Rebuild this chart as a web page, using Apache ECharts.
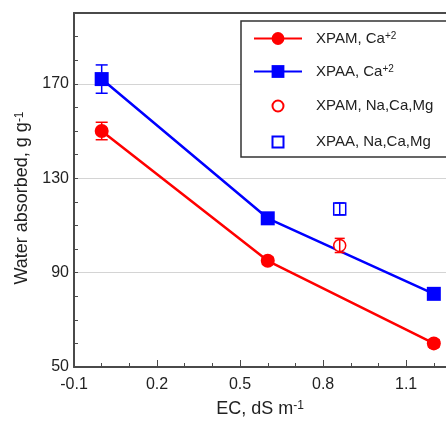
<!DOCTYPE html>
<html>
<head>
<meta charset="utf-8">
<script src="https://cdn.jsdelivr.net/npm/echarts@6/dist/echarts.min.js"></script>
<style>
html, body { margin: 0; padding: 0; background: #fff; }
#chart { width: 446px; height: 423px; }
</style>
</head>
<body>
<div id="chart"></div>
<script>
// 数据
const ecValues = [0, 0.6, 1.2];
const xpamCa = [150, 95, 60];
const xpamCaErr = [3.7, 1.5, 1.5];
const xpaaCa = [172, 113, 81];
const xpaaCaErr = [6, 1.5, 1.5];

const mixEc = [0.86];
const xpamMix = [101.5];
const xpamMixErr = [3];
const xpaaMix = [117];
const xpaaMixErr = [2.5];

const xLabelValues = [-0.1, 0.2, 0.5, 0.8, 1.1];
const yLabelValues = [50, 90, 130, 170];

const RED = '#ff0000';
const BLUE = '#0000ff';
const AXIS = '#4a4a4a';
const FONT = 'Liberation Sans, Arial, sans-serif';

// 图例里的空心符号 (带留白, 比实心的小一点)
const LEGEND_OPEN_CIRCLE = 'path://M0,0M16,16M8,2.5A5.5,5.5,0,1,1,7.99,2.5Z';
const LEGEND_OPEN_SQUARE = 'path://M0,0M16,16M2.5,2.5H13.5V13.5H2.5Z';

function pairs(xs, ys) {
    return xs.map((x, i) => [x, ys[i]]);
}

// 误差棒: [x, y, err]
function errData(xs, ys, errs) {
    return xs.map((x, i) => [x, ys[i], errs[i]]);
}

function errorBar(id, color, data, cap) {
    return {
        name: id,
        type: 'custom',
        z: 4,
        silent: true,
        data: data,
        renderItem: (params, api) => {
            const x = api.value(0);
            const lo = api.coord([x, api.value(1) - api.value(2)]);
            const hi = api.coord([x, api.value(1) + api.value(2)]);
            const style = { stroke: color, lineWidth: 1.5 };
            return {
                type: 'group',
                children: [
                    { type: 'line', shape: { x1: lo[0], y1: lo[1], x2: hi[0], y2: hi[1] }, style },
                    { type: 'line', shape: { x1: lo[0] - cap, y1: lo[1], x2: lo[0] + cap, y2: lo[1] }, style },
                    { type: 'line', shape: { x1: hi[0] - cap, y1: hi[1], x2: hi[0] + cap, y2: hi[1] }, style }
                ]
            };
        }
    };
}

function supLabel(name) {
    const m = name.match(/^(.*?)(\+2)$/);
    if (m) return '{t|' + m[1] + '}{sup|' + m[2] + '}';
    return '{t|' + name + '}';
}

const chart = echarts.init(document.getElementById('chart'));

const baseX = { type: 'value', min: -0.1, max: 1.244, interval: 0.1 };
const baseY = { type: 'value', min: 50, max: 200, interval: 10 };

const option = {
    animation: false,
    textStyle: { fontFamily: FONT },
    grid: { left: 74, top: 13, right: 0, bottom: 54, containLabel: false },
    legend: {
        orient: 'vertical',
        left: 241,
        top: 21,
        align: 'left',
        itemWidth: 48,
        itemHeight: 16,
        itemGap: 18,
        symbolKeepAspect: true,
        padding: [10, 60, 6, 12],
        backgroundColor: '#fff',
        borderColor: '#333',
        borderWidth: 1.5,
        borderRadius: 0,
        data: [
            'XPAM, Ca+2',
            'XPAA, Ca+2',
            { name: 'XPAM, Na,Ca,Mg', icon: LEGEND_OPEN_CIRCLE },
            { name: 'XPAA, Na,Ca,Mg', icon: LEGEND_OPEN_SQUARE }
        ],
        formatter: supLabel,
        textStyle: {
            color: '#222',
            fontSize: 15,
            fontFamily: FONT,
            rich: {
                t: { fontSize: 15, color: '#222', padding: [0, 0, 0, 9], fontFamily: FONT },
                sup: { fontSize: 10, color: '#222', verticalAlign: 'top', fontFamily: FONT }
            }
        }
    },
    xAxis: [
        Object.assign({}, baseX, {
            position: 'bottom',
            name: '{t|EC, dS m}{sup|-1}',
            nameLocation: 'middle',
            nameGap: 33,
            nameTextStyle: {
                rich: {
                    t: { fontSize: 18, color: '#222', fontFamily: FONT },
                    sup: { fontSize: 12, color: '#222', verticalAlign: 'top', fontFamily: FONT }
                }
            },
            axisLine: { show: true, onZero: false, lineStyle: { color: AXIS, width: 2 } },
            axisTick: { show: true, inside: true, length: 7, customValues: xLabelValues, lineStyle: { color: AXIS, width: 1 } },
            axisLabel: {
                customValues: xLabelValues,
                margin: 10,
                fontSize: 16,
                color: '#222',
                fontFamily: FONT,
                formatter: v => v.toFixed(1)
            },
            splitLine: { show: false }
        }),
        Object.assign({}, baseX, {
            position: 'bottom',
            axisLine: { show: false, onZero: false },
            axisTick: { show: true, inside: true, length: 4, lineStyle: { color: AXIS, width: 1 } },
            axisLabel: { show: false },
            splitLine: { show: false }
        }),
        Object.assign({}, baseX, {
            position: 'top',
            axisLine: { show: true, onZero: false, lineStyle: { color: AXIS, width: 2 } },
            axisTick: { show: false },
            axisLabel: { show: false },
            splitLine: { show: false }
        })
    ],
    yAxis: [
        Object.assign({}, baseY, {
            position: 'left',
            name: '{t|Water absorbed, g g}{sup|-1}',
            nameLocation: 'middle',
            nameGap: 35,
            nameRotate: 90,
            nameTextStyle: {
                padding: [0, 16, 0, 0],
                rich: {
                    t: { fontSize: 18, color: '#222', fontFamily: FONT },
                    sup: { fontSize: 12, color: '#222', verticalAlign: 'top', fontFamily: FONT }
                }
            },
            axisLine: { show: true, onZero: false, lineStyle: { color: AXIS, width: 2 } },
            axisTick: { show: true, inside: true, length: 4, lineStyle: { color: AXIS, width: 1 } },
            axisLabel: {
                customValues: yLabelValues,
                margin: 5,
                fontSize: 16,
                color: '#222',
                fontFamily: FONT
            },
            splitLine: { show: false }
        }),
        Object.assign({}, baseY, {
            position: 'left',
            axisLine: { show: false, onZero: false },
            axisTick: { show: false, customValues: yLabelValues },
            axisLabel: { show: false },
            splitLine: { show: true, lineStyle: { color: '#d4d4d4', width: 1 } }
        })
    ],
    series: [
        {
            name: 'XPAM, Ca+2',
            type: 'line',
            z: 3,
            data: pairs(ecValues, xpamCa),
            symbol: 'circle',
            symbolSize: 14,
            lineStyle: { color: RED, width: 2.5 },
            itemStyle: { color: RED }
        },
        {
            name: 'XPAA, Ca+2',
            type: 'line',
            z: 3,
            data: pairs(ecValues, xpaaCa),
            symbol: 'rect',
            symbolSize: 14,
            lineStyle: { color: BLUE, width: 2.5 },
            itemStyle: { color: BLUE }
        },
        {
            name: 'XPAM, Na,Ca,Mg',
            type: 'scatter',
            z: 3,
            data: pairs(mixEc, xpamMix),
            symbol: 'circle',
            symbolSize: 12,
            itemStyle: { color: '#fff', borderColor: RED, borderWidth: 1.5, opacity: 1 }
        },
        {
            name: 'XPAA, Na,Ca,Mg',
            type: 'scatter',
            z: 3,
            data: pairs(mixEc, xpaaMix),
            symbol: 'rect',
            symbolSize: 12,
            itemStyle: { color: '#fff', borderColor: BLUE, borderWidth: 1.5, opacity: 1 }
        },
        errorBar('err-xpam-ca', RED, errData(ecValues, xpamCa, xpamCaErr), 6),
        errorBar('err-xpaa-ca', BLUE, errData(ecValues, xpaaCa, xpaaCaErr), 6),
        errorBar('err-xpam-mix', RED, errData(mixEc, xpamMix, xpamMixErr), 5),
        errorBar('err-xpaa-mix', BLUE, errData(mixEc, xpaaMix, xpaaMixErr), 5)
    ]
};

chart.setOption(option);
</script>
</body>
</html>
